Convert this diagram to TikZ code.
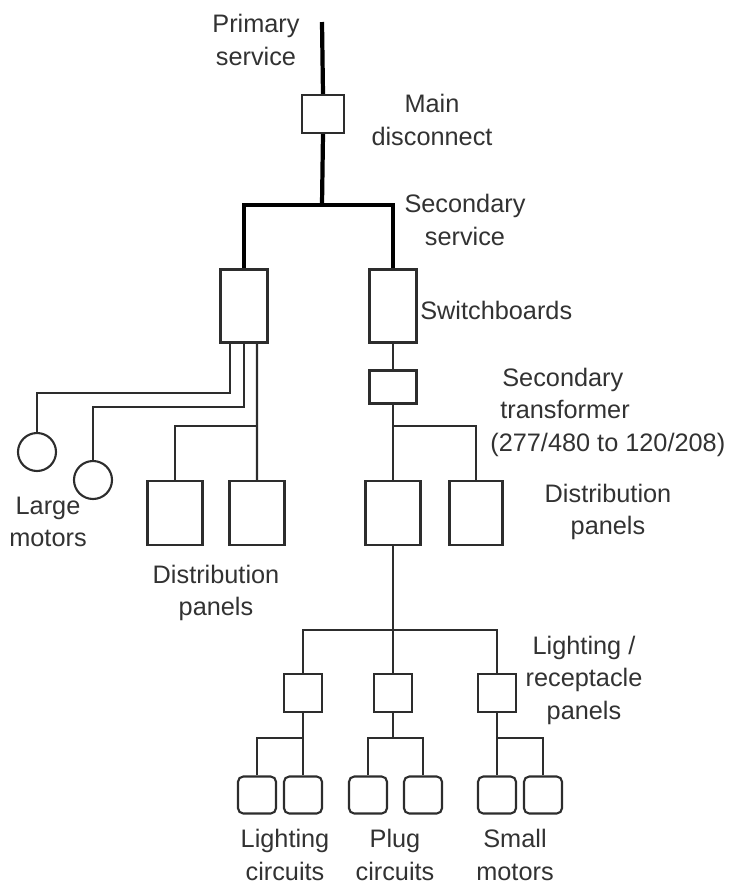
\documentclass[tikz,border=0pt]{standalone}
\usepackage{fontspec}
\setmainfont{Liberation Sans}
\usetikzlibrary{calc}
\definecolor{wiregray}{RGB}{45,45,45}
\definecolor{textgray}{RGB}{50,50,50}
\tikzset{
    panelbox/.style={rectangle, draw=wiregray, line width=1.2pt, inner sep=0pt, minimum width=#1},
    circuitbox/.style={rectangle, draw=wiregray, line width=1.2pt, rounded corners=3pt, inner sep=0pt, minimum width=0.76cm, minimum height=0.74cm},
    motor/.style={circle, draw=wiregray, line width=1.2pt, inner sep=0pt, minimum size=0.76cm},
    wire/.style={draw=wiregray, line width=1.2pt},
    bus/.style={draw=black, line width=2.4pt},
    lbl/.style={font=\fontsize{14.4}{18.5}\selectfont, text=textgray, align=center, inner sep=0pt}
}

\begin{document}
\begin{tikzpicture}[x=0.02cm, y=-0.02cm]
\useasboundingbox (0,0) rectangle (729,887);

% service entrance
\coordinate (ptop) at (322,22);
\node[panelbox=0.84cm, minimum height=0.76cm] (main) at (323,114) {};
\coordinate (split) at (322,205);
\node[panelbox=0.94cm, minimum height=1.46cm] (sbL) at (244,306) {};
\node[panelbox=0.94cm, minimum height=1.46cm] (sbR) at (393,306) {};
\node[panelbox=0.94cm, minimum height=0.66cm] (xfmr) at (393,387) {};

% distribution panels
\node[panelbox=1.1cm, minimum height=1.28cm] (dpL1) at (175,513) {};
\node[panelbox=1.1cm, minimum height=1.28cm] (dpL2) at (257,513) {};
\node[panelbox=1.1cm, minimum height=1.28cm] (dpR1) at (393,513) {};
\node[panelbox=1.06cm, minimum height=1.28cm] (dpR2) at (476,513) {};

% large motors
\node[motor] (m1) at (37,452) {};
\node[motor] (m2) at (93,480) {};

% lighting / receptacle panels
\node[panelbox=0.76cm, minimum height=0.76cm] (lp1) at (303,693) {};
\node[panelbox=0.76cm, minimum height=0.76cm] (lp2) at (393,693) {};
\node[panelbox=0.76cm, minimum height=0.76cm] (lp3) at (497,693) {};

% branch circuits
\node[circuitbox] (c1) at (257,795) {};
\node[circuitbox] (c2) at (303,795) {};
\node[circuitbox] (c3) at (368,795) {};
\node[circuitbox] (c4) at (423,795) {};
\node[circuitbox] (c5) at (497,795) {};
\node[circuitbox] (c6) at (543,795) {};

\coordinate (lvlA) at (0,426);
\coordinate (lvlB) at (0,630);
\coordinate (lvlC) at (0,738);

% heavy feeders
\draw[bus] (ptop) -- (main.north);
\draw[bus] (main.south) -- (split);
\draw[bus] (sbL.north) |- (split) -| (sbR.north);

% left switchboard
\draw[wire] ([xshift=-0.28cm]sbL.south) -- ++(0,49) -| (m1.north);
\draw[wire] (sbL.south) -- ++(0,63) -| (m2.north);
\draw[wire] ([xshift=0.26cm]sbL.south) -- (dpL2.north);
\draw[wire] (dpL1.north) |- (dpL2.north |- lvlA);

% right switchboard
\draw[wire] (sbR) -- (xfmr);
\draw[wire] (xfmr) -- (dpR1);
\draw[wire] (dpR2.north) |- (xfmr.south |- lvlA);
\draw[wire] (dpR1.south) -- (lp2.north);
\draw[wire] (lp1.north) |- (lp2.north |- lvlB) -| (lp3.north);

% branch circuits
\draw[wire] (lp1) -- (c2);
\draw[wire] (c1.north) |- (lp1.south |- lvlC);
\draw[wire] (lp2.south) -- (lp2.south |- lvlC);
\draw[wire] (c3.north) |- (lp2.south |- lvlC) -| (c4.north);
\draw[wire] (lp3) -- (c5);
\draw[wire] (c6.north) |- (lp3.south |- lvlC);

% labels
\node[lbl] (tprim) at (256,40) {Primary\\service};
\node[lbl] (tmain) at (432,120) {Main\\disconnect};
\node[lbl] (tsec) at (465,220) {Secondary\\service};
\node[lbl, anchor=west] (tsw) at (420,310) {Switchboards};
\node[lbl, align=left, anchor=west] (txf) at (490,412) {\hspace*{0.24cm}Secondary\\\hspace*{0.2cm}transformer\\(277/480 to 120/208)};
\node[lbl] (tlm) at (48,522) {Large\\motors};
\node[lbl] (tdpL) at (216,593) {Distribution\\panels};
\node[lbl] (tdpR) at (608,512) {Distribution\\panels};
\node[lbl] (tlp) at (584,680) {Lighting /\\receptacle\\panels};
\node[lbl] (tlc) at (285,855) {Lighting\\circuits};
\node[lbl] (tpc) at (395,855) {Plug\\circuits};
\node[lbl] (tsm) at (515,855) {Small\\motors};
\end{tikzpicture}
\end{document}
